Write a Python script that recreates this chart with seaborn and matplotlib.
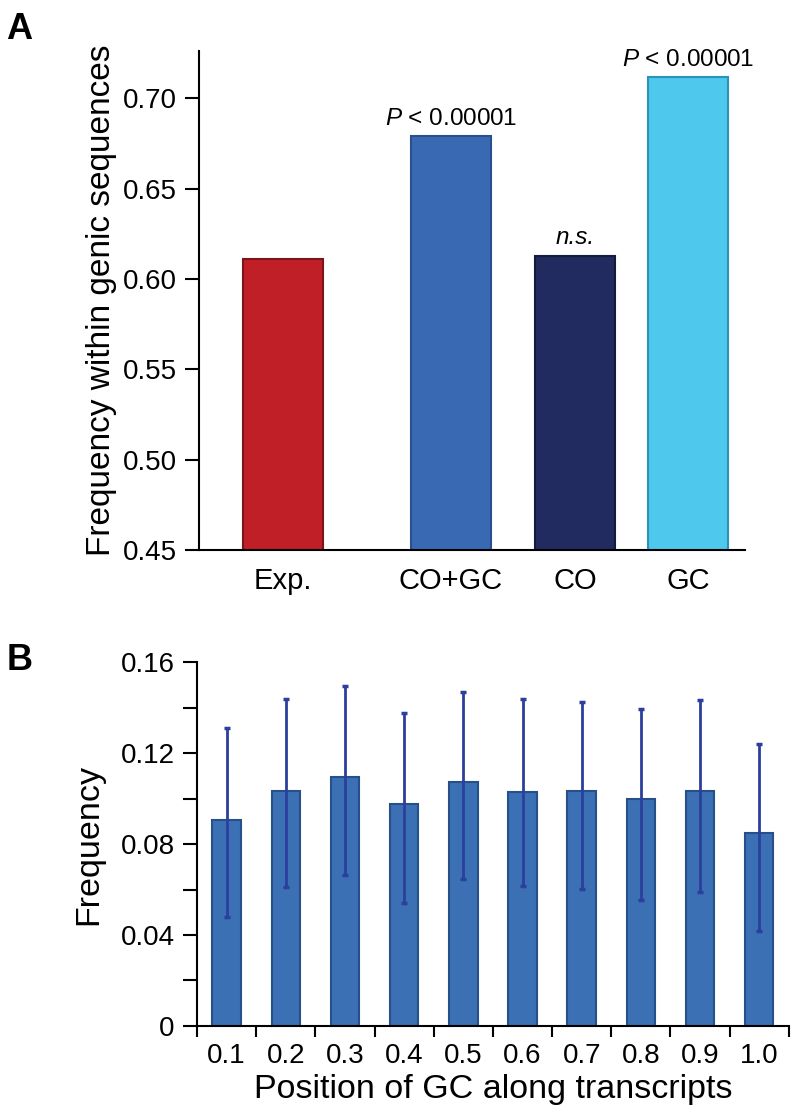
import matplotlib

matplotlib.use("Agg")

import matplotlib.pyplot as plt
import pandas as pd
import seaborn as sns

# panel A data
groups = ["Exp.", "CO+GC", "CO", "GC"]
genic_freq = [0.611, 0.679, 0.613, 0.712]
group_notes = ["", "$P$ < 0.00001", "n.s.", "$P$ < 0.00001"]
group_colors = ["#c11f27", "#3a69b3", "#212b5f", "#4ec8ec"]
group_edges = ["#7d1418", "#2a4f8f", "#141b40", "#2a94b8"]
# x placement of the bars (layout, uneven gaps as in the figure)
group_pos = [0.0, 1.68, 2.92, 4.05]

# panel B data
positions = ["0.1", "0.2", "0.3", "0.4", "0.5", "0.6", "0.7", "0.8", "0.9", "1.0"]
pos_freq = [0.0905, 0.1033, 0.1095, 0.0976, 0.1073, 0.1029, 0.1033, 0.0998, 0.1033, 0.0848]
err_low = [0.0479, 0.0611, 0.0664, 0.0540, 0.0646, 0.0615, 0.0602, 0.0554, 0.0589, 0.0418]
err_high = [0.1310, 0.1437, 0.1495, 0.1376, 0.1468, 0.1437, 0.1424, 0.1393, 0.1433, 0.1240]
freq_ticks = [0, 0.04, 0.08, 0.12, 0.16]
freq_tick_labels = ["0", "0.04", "0.08", "0.12", "0.16"]

sns.set_theme(style="ticks")
plt.rcParams["font.family"] = ["Liberation Sans", "DejaVu Sans"]
plt.rcParams["mathtext.fontset"] = "custom"
plt.rcParams["mathtext.rm"] = "Liberation Sans"
plt.rcParams["mathtext.it"] = "Liberation Sans:italic"
for key in ["text.color", "axes.labelcolor", "xtick.color", "ytick.color", "axes.edgecolor"]:
    plt.rcParams[key] = "black"

fig = plt.figure(figsize=(7.96, 11.18), dpi=100)
ax_a = fig.add_axes([0.25, 0.508, 0.686, 0.446])
ax_b = fig.add_axes([0.2475, 0.0823, 0.7435, 0.3255])

# ---- panel A
df_a = pd.DataFrame({"pos": group_pos, "freq": genic_freq, "group": groups})
sns.barplot(
    data=df_a,
    x="pos",
    y="freq",
    hue="group",
    palette=dict(zip(groups, group_colors)),
    saturation=1,
    native_scale=True,
    dodge=False,
    width=0.708,
    legend=False,
    ax=ax_a,
)
for patch, edge in zip(ax_a.patches, group_edges):
    patch.set_edgecolor(edge)
    patch.set_linewidth(1.5)

for patch, note in zip(ax_a.patches, group_notes):
    if not note:
        continue
    ax_a.annotate(
        note,
        (patch.get_x() + patch.get_width() / 2, patch.get_height()),
        xytext=(0, 8),
        textcoords="offset points",
        ha="center",
        va="baseline",
        fontsize=17.5,
        fontstyle="italic" if note == "n.s." else "normal",
    )

ax_a.set_ylim(0.45, 0.726)
ax_a.set_xlim(-0.84, 4.62)
ax_a.set_yticks([0.45, 0.50, 0.55, 0.60, 0.65, 0.70])
ax_a.set_yticklabels([f"{v:.2f}" for v in [0.45, 0.50, 0.55, 0.60, 0.65, 0.70]])
ax_a.set_xticks(group_pos)
ax_a.set_xticklabels(groups)
ax_a.tick_params(axis="y", labelsize=20, length=10, width=1.5, direction="out", pad=6)
ax_a.tick_params(axis="x", labelsize=21, length=0, pad=12)
ax_a.set_xlabel("")
ax_a.set_ylabel("Frequency within genic sequences", fontsize=24, labelpad=4)
for side in ["top", "right"]:
    ax_a.spines[side].set_visible(False)
for side in ["left", "bottom"]:
    ax_a.spines[side].set_linewidth(1.5)

# ---- panel B
df_b = pd.DataFrame({"position": positions, "freq": pos_freq})
sns.barplot(data=df_b, x="position", y="freq", color="#3b70b5", saturation=1, width=0.48, ax=ax_b)
for patch in ax_b.patches:
    patch.set_edgecolor("#27508a")
    patch.set_linewidth(1.5)

centers = [p.get_x() + p.get_width() / 2 for p in ax_b.patches]
heights = [p.get_height() for p in ax_b.patches]
yerr = [
    [h - lo for h, lo in zip(heights, err_low)],
    [hi - h for h, hi in zip(heights, err_high)],
]
ax_b.errorbar(
    centers,
    heights,
    yerr=yerr,
    fmt="none",
    ecolor="#2c3f9c",
    elinewidth=2,
    capsize=2.5,
    capthick=2.5,
)

ax_b.set_ylim(0, 0.16)
ax_b.set_xlim(-0.5, len(positions) - 0.5)
ax_b.set_yticks(freq_ticks)
ax_b.set_yticklabels(freq_tick_labels)
ax_b.set_yticks([0.02, 0.06, 0.10, 0.14], minor=True)
ax_b.set_xticks([i - 0.5 for i in range(len(positions) + 1)], minor=True)
ax_b.tick_params(axis="y", which="both", labelsize=20, length=10, width=1.5, direction="out", pad=6)
ax_b.tick_params(axis="x", which="major", labelsize=20, length=0, pad=12)
ax_b.tick_params(axis="x", which="minor", length=8, width=1.5, direction="out")
ax_b.set_xlabel("Position of GC along transcripts", fontsize=24.5, labelpad=4)
ax_b.set_ylabel("Frequency", fontsize=24.5, labelpad=12)
for side in ["top", "right"]:
    ax_b.spines[side].set_visible(False)
for side in ["left", "bottom"]:
    ax_b.spines[side].set_linewidth(1.5)

fig.text(0.008, 1 - 39 / 1118, "A", fontsize=26, fontweight="bold", va="baseline")
fig.text(0.008, 1 - 670 / 1118, "B", fontsize=26, fontweight="bold", va="baseline")

fig.savefig("out.png", dpi=100)
